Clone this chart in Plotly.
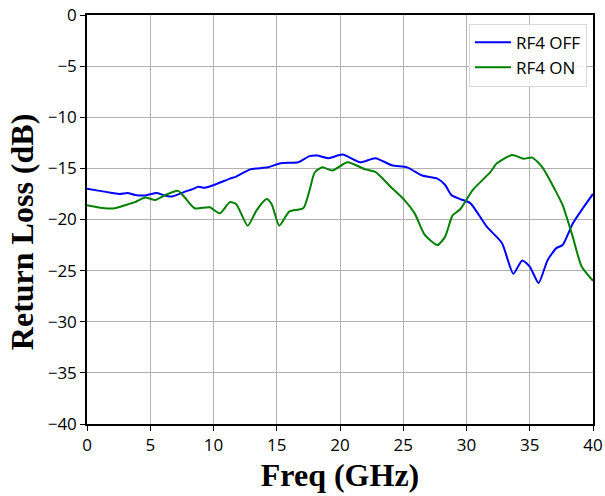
import plotly.graph_objects as go

off_freq = [0, 1, 2, 2.6, 3.2, 3.8, 4.6, 5.5, 6.0, 6.7, 7.7, 8.4, 8.8, 9.3, 10.1,
            11.3, 11.8, 12.9, 14.3, 15.3, 16.7, 17.6, 18.2, 19.1, 20.2, 21.6, 22.8,
            24.1, 25.3, 26.5, 27.7, 28.3, 28.8, 29.5, 30.3, 31.6, 32.8, 33.7, 34.4,
            35.0, 35.7, 36.4, 37.1, 37.6, 38.4, 39.2, 40]
off_rl = [-17.0, -17.2, -17.4, -17.5, -17.4, -17.6, -17.65, -17.4, -17.6, -17.75, -17.3,
          -17.0, -16.8, -16.9, -16.6, -16.0, -15.8, -15.1, -14.9, -14.5, -14.4, -13.8,
          -13.75, -14.0, -13.65, -14.4, -14.0, -14.7, -14.9, -15.7, -16.0, -16.6, -17.6,
          -18.0, -18.4, -20.7, -22.3, -25.3, -24.0, -24.6, -26.2, -24.0, -22.8, -22.5,
          -20.4, -18.9, -17.5]

on_freq = [0, 1.4, 2.2, 3.0, 3.8, 4.6, 5.4, 6.2, 7.2, 7.7, 8.5, 9.7, 10.5, 11.3, 11.8,
           12.7, 13.4, 14.2, 14.6, 15.2, 16.0, 17.1, 17.6, 18.0, 18.6, 19.4, 20.6, 22.0,
           22.8, 24.0, 25.1, 25.9, 26.7, 27.7, 28.3, 28.9, 29.5, 30.5, 31.9, 32.4, 33.6,
           34.5, 35.2, 36.0, 37.0, 37.6, 38.4, 39.1, 40]
on_rl = [-18.6, -18.9, -18.9, -18.6, -18.3, -17.85, -18.1, -17.6, -17.2, -17.8, -18.9,
         -18.8, -19.4, -18.3, -18.5, -20.6, -19.1, -18.0, -18.5, -20.6, -19.2, -18.9,
         -17.1, -15.4, -14.9, -15.2, -14.4, -15.1, -15.35, -16.8, -18.1, -19.4, -21.5,
         -22.5, -21.7, -19.6, -19.0, -17.1, -15.35, -14.5, -13.7, -14.05, -13.95, -14.9,
         -17.1, -18.6, -21.7, -24.6, -26.0]

x_ticks = [0, 5, 10, 15, 20, 25, 30, 35, 40]
y_ticks = [0, -5, -10, -15, -20, -25, -30, -35, -40]

fig = go.Figure()
fig.add_trace(go.Scatter(x=off_freq, y=off_rl, mode="lines", name="RF4 OFF",
                         line=dict(color="#0000ff", width=2, shape="spline", smoothing=0.6)))
fig.add_trace(go.Scatter(x=on_freq, y=on_rl, mode="lines", name="RF4 ON",
                         line=dict(color="#008000", width=2, shape="spline", smoothing=0.6)))

axis_common = dict(
    showline=True, linecolor="black", linewidth=1.5, mirror=True,
    showgrid=True, gridcolor="#b0b0b0", gridwidth=1,
    ticks="outside", ticklen=5, tickwidth=1, tickcolor="black",
    tickfont=dict(family="Open Sans", size=17, color="black"),
    zeroline=False, automargin=False,
)

title_font = dict(family="Liberation Serif", size=32, color="black", weight="bold")

fig.update_layout(
    width=605, height=496,
    margin=dict(l=87, r=12, t=15, b=72),
    plot_bgcolor="white", paper_bgcolor="white",
    xaxis=dict(range=[0, 40], tickvals=x_ticks, ticktext=[str(v) for v in x_ticks],
               title=dict(text="<b>Freq (GHz)</b>", standoff=8, font=title_font),
               **axis_common),
    yaxis=dict(range=[-40, 0], tickvals=y_ticks,
               ticktext=[("\u2212" + str(-v)) if v < 0 else str(v) for v in y_ticks],
               **axis_common),
    annotations=[dict(text="<b>Return Loss (dB)</b>", xref="paper", yref="paper",
                      x=-0.1285, y=0.469, xanchor="center", yanchor="middle",
                      textangle=-90, showarrow=False, font=title_font)],
    legend=dict(x=0.988, y=0.979, xanchor="right", yanchor="top",
                bgcolor="rgba(255,255,255,0.85)", bordercolor="#d8d8d8", borderwidth=1,
                font=dict(family="Open Sans", size=17, color="black"),
                itemwidth=36, tracegroupgap=2),
    showlegend=True,
)

fig.write_html("out.html", config={"displayModeBar": False},
               post_script="document.body.style.margin='0px';")
